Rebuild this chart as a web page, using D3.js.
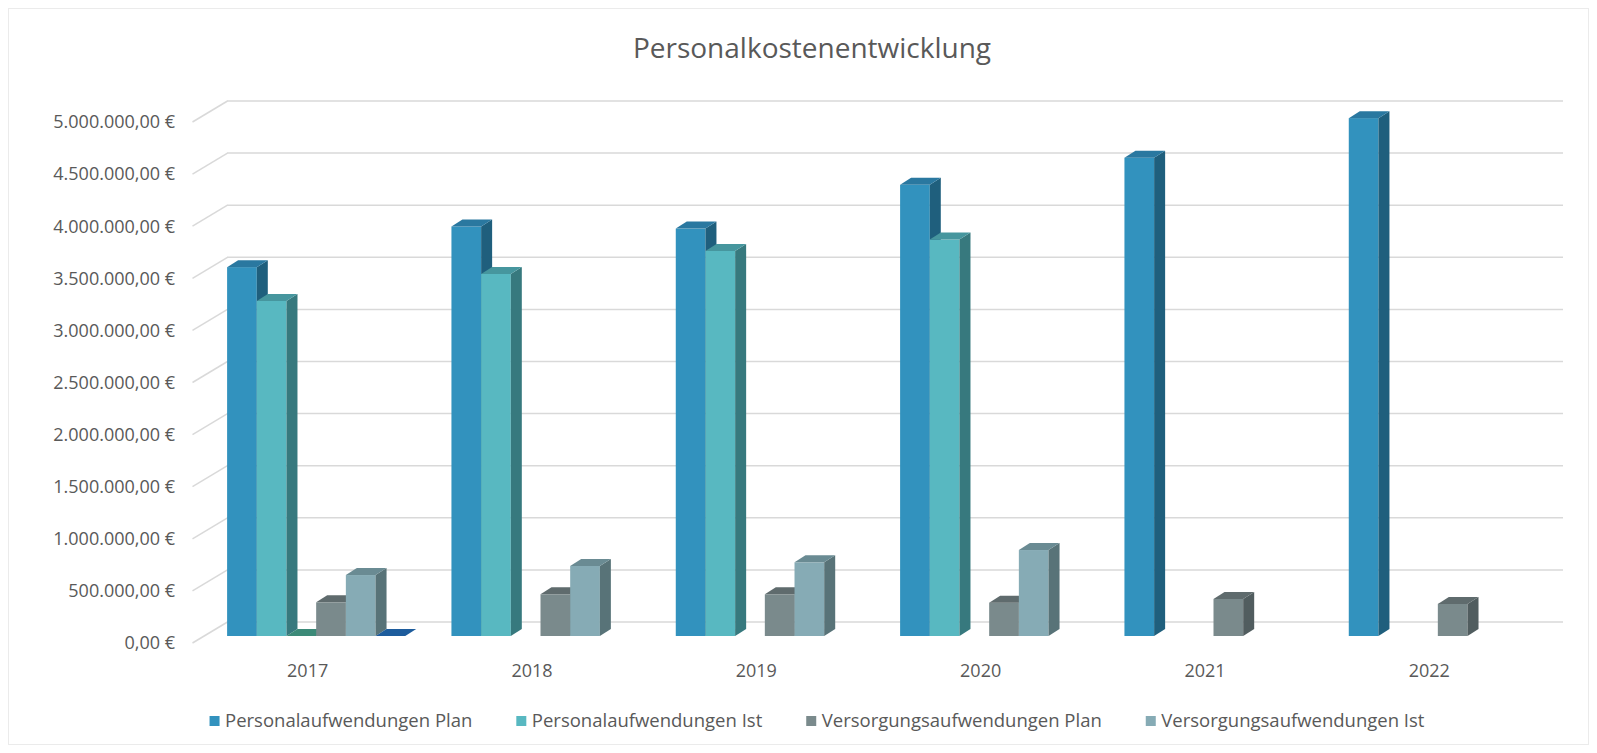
<!DOCTYPE html>
<html>
<head>
<meta charset="utf-8">
<script src="https://cdn.jsdelivr.net/npm/d3@7"></script>
<style>
  body { margin: 0; background: #fff; }
  svg text { font-family: 'Open Sans', sans-serif; fill: #595959; }
</style>
</head>
<body>
<div id="chart"></div>
<script>
// data
const years = ['2017', '2018', '2019', '2020', '2021', '2022'];
const personalPlan = [3540000, 3930000, 3910000, 4330000, 4590000, 4970000];
const personalIst = [3215000, 3475000, 3695000, 3805000, null, null];
const versorgungPlan = [323000, 400000, 400000, 320000, 355000, 308000];
const versorgungIst = [585000, 672000, 707000, 825000, null, null];
// two unlabeled series, only a zero value in 2017
const ohneNameA = [0, null, null, null, null, null];
const ohneNameB = [0, null, null, null, null, null];
const yTicks = [0, 500000, 1000000, 1500000, 2000000, 2500000, 3000000, 3500000, 4000000, 4500000, 5000000];

const series = [
  { name: 'Personalaufwendungen Plan', values: personalPlan, front: '#3292be', side: '#1f5f7d', top: '#2a78a0', legend: true },
  { name: 'Personalaufwendungen Ist', values: personalIst, front: '#58b8c1', side: '#37797e', top: '#46969e', legend: true },
  { name: '', values: ohneNameA, front: '#3f8f7c', side: '#2d6a5c', top: '#3c8a78', legend: false },
  { name: 'Versorgungsaufwendungen Plan', values: versorgungPlan, front: '#7a8a8c', side: '#515d5f', top: '#5f6b6d', legend: true },
  { name: 'Versorgungsaufwendungen Ist', values: versorgungIst, front: '#86abb5', side: '#587378', top: '#6a8b93', legend: true },
  { name: '', values: ohneNameB, front: '#1f62a3', side: '#184d80', top: '#1d5c9c', legend: false }
];

const width = 1597;
const height = 753;

// 3d offsets: bar depth and the floor depth
const dx = 11, dy = -7;
const frontX = -11.5, frontY = 7;   // axis labels plane
const backX = 23.5, backY = -14;    // back wall

const svg = d3.select('#chart')
  .append('svg')
  .attr('width', width)
  .attr('height', height);

svg.append('rect')
  .attr('x', 8.5).attr('y', 8.5)
  .attr('width', 1580).attr('height', 736)
  .attr('fill', '#fff')
  .attr('stroke', '#ebebeb');

svg.append('text')
  .text('Personalkostenentwicklung')
  .attr('x', 812)
  .attr('y', 58)
  .attr('text-anchor', 'middle')
  .style('font-size', '28px');

const x0 = d3.scaleBand().domain(years).range([204, 1550]).paddingInner(0.206).paddingOuter(0.103);
const x1 = d3.scaleBand().domain(d3.range(series.length)).range([0, x0.bandwidth()]);
const y = d3.scaleLinear().domain([0, 5000000]).range([636, 115]);

// gridlines on the back wall plus the diagonal floor ticks
const grid = svg.append('g');
yTicks.forEach(v => {
  grid.append('line')
    .attr('x1', 204 + backX - 0.5).attr('x2', 1563)
    .attr('y1', y(v) + backY).attr('y2', y(v) + backY)
    .attr('stroke', '#d9d9d9').attr('stroke-width', 1.5);
  grid.append('line')
    .attr('x1', 204 + frontX).attr('y1', y(v) + frontY)
    .attr('x2', 204 + backX).attr('y2', y(v) + backY)
    .attr('stroke', '#d9d9d9').attr('stroke-width', 1.5);
});

const fmt = d3.formatLocale({ decimal: ',', thousands: '.', grouping: [3], currency: ['', ' €'] }).format(',.2f');

svg.append('g').selectAll('text')
  .data(yTicks)
  .join('text')
  .text(d => fmt(d) + ' €')
  .attr('x', 175)
  .attr('y', d => y(d) + frontY)
  .attr('dy', '0.35em')
  .attr('text-anchor', 'end')
  .style('font-size', '18px');

svg.append('g').selectAll('text')
  .data(years)
  .join('text')
  .text(d => d)
  .attr('x', d => x0(d) + x0.bandwidth() / 2 + frontX + 3)
  .attr('y', 677)
  .attr('text-anchor', 'middle')
  .style('font-size', '18px');

// bars, left to right so the next front face covers the previous side face
const bars = svg.append('g');
years.forEach((yr, i) => {
  series.forEach((s, j) => {
    const v = s.values[i];
    if (v === null) return;
    const x = x0(yr) + x1(j);
    const w = x1.bandwidth();
    const yt = y(v);
    const yb = y(0);
    const g = bars.append('g');
    if (yb - yt > 0.5) {
      g.append('rect')
        .attr('x', x).attr('y', yt)
        .attr('width', w).attr('height', yb - yt)
        .attr('fill', s.front);
      g.append('path')
        .attr('d', `M${x + w},${yt}L${x + w + dx},${yt + dy}L${x + w + dx},${yb + dy}L${x + w},${yb}Z`)
        .attr('fill', s.side);
    }
    g.append('path')
      .attr('d', `M${x},${yt}L${x + dx},${yt + dy}L${x + w + dx},${yt + dy}L${x + w},${yt}Z`)
      .attr('fill', s.top);
  });
});

// legend
const legendItems = series.filter(s => s.legend);
const legend = svg.append('g');
let lx = 0;
legendItems.forEach(s => {
  const item = legend.append('g').attr('transform', `translate(${lx},0)`);
  item.append('rect')
    .attr('x', 0).attr('y', -5)
    .attr('width', 10).attr('height', 10)
    .attr('fill', s.front);
  const t = item.append('text')
    .text(s.name)
    .attr('x', 15.5)
    .attr('dy', '0.35em')
    .style('font-size', '18.5px');
  lx += 15.5 + t.node().getComputedTextLength() + 44;
});
const legendWidth = lx - 44;
legend.attr('transform', `translate(${817 - legendWidth / 2},721)`);
</script>
</body>
</html>
